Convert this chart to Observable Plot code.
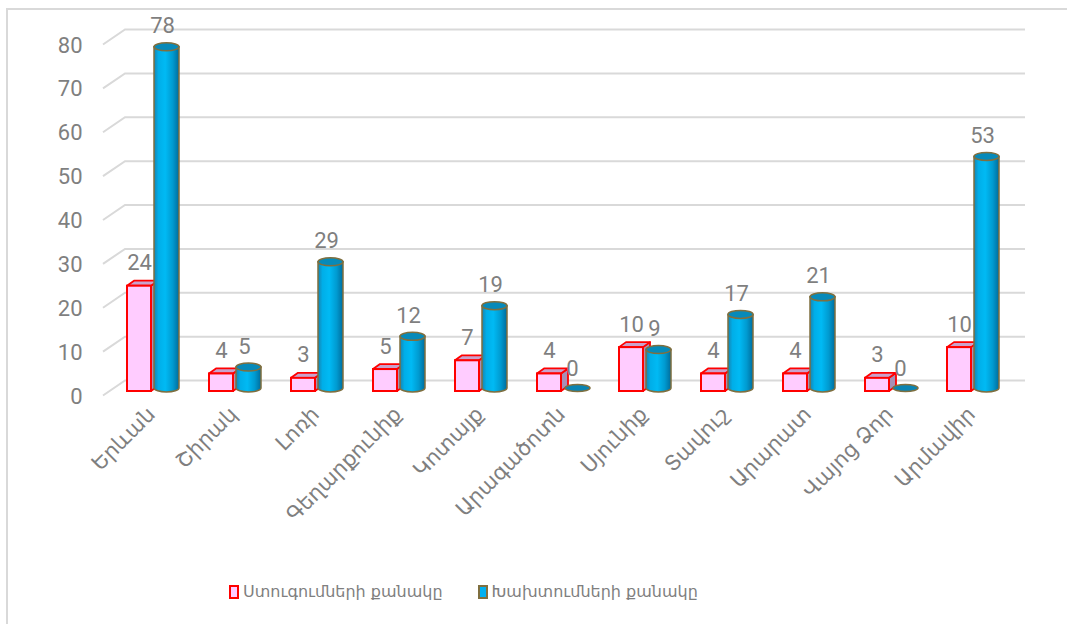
<!DOCTYPE html>
<html>
<head>
<meta charset="utf-8">
<script src="https://cdn.jsdelivr.net/npm/d3@7"></script>
<script src="https://cdn.jsdelivr.net/npm/@observablehq/plot@0.6"></script>
<style>
  html, body { margin: 0; padding: 0; background: #fff; }
  #wrap { position: relative; width: 1067px; height: 624px; overflow: hidden; }
  #frame { position: absolute; left: 6px; top: 8px; width: 1100px; height: 700px; border: 2px solid #d9d9d9; box-sizing: border-box; }
  #chart { position: absolute; left: 0; top: 0; }
  #legend { position: absolute; left: 229px; top: 582px; display: flex; align-items: center; font-family: "DejaVu Sans", sans-serif; font-size: 16px; color: #7f7f7f; white-space: nowrap; }
  .sw { width: 10px; height: 14px; box-sizing: border-box; margin-right: 4px; }
  .item { display: flex; align-items: center; margin-right: 35px; }
</style>
</head>
<body>
<div id="wrap">
  <div id="frame"></div>
  <div id="chart"></div>
  <div id="legend"></div>
</div>
<script>
const regions = ["Երևան","Շիրակ","Լոռի","Գեղարքունիք","Կոտայք","Արագածոտն","Սյունիք","Տավուշ","Արարատ","Վայոց Ձոր","Արմավիր"];
const inspections = [24, 4, 3, 5, 7, 4, 10, 4, 4, 3, 10];
const violations = [78, 5, 29, 12, 19, 0, 9, 17, 21, 0, 53];
const yTicks = [0, 10, 20, 30, 40, 50, 60, 70, 80];
const seriesNames = ["Ստուգումների քանակը", "Խախտումների քանակը"];
const seriesFill = ["#ffccff", "#00b0f0"];
const seriesStroke = ["#ff0000", "#7f6f3f"];

const insData = regions.map((r, i) => ({region: r, value: inspections[i]}));
const vioData = regions.map((r, i) => ({region: r, value: violations[i]}));

// 3D gridlines on the back wall, with diagonal side edges
function gridMark(index, scales, values, dims) {
  const g = d3.create("svg:g").attr("fill", "none").attr("stroke", "#d9d9d9").attr("stroke-width", 2);
  const ml = dims.marginLeft, xr = dims.width - dims.marginRight;
  for (const t of yTicks) {
    const y = scales.y(t);
    g.append("path").attr("d", `M${ml - 9},${y + 4.5}L${ml + 13},${y - 10.5}L${xr + 11},${y - 10.5}`);
  }
  return g.node();
}

// 3D boxes and cylinders, positioned through the x/y scales
function bars3d(index, scales, values, dims) {
  const x = scales.x, y = scales.y;
  const g = d3.create("svg:g");
  const defs = g.append("defs");
  const grad = defs.append("linearGradient").attr("id", "cylGrad")
    .attr("x1", "0").attr("x2", "1").attr("y1", "0").attr("y2", "0");
  [[0, "#1883b0"], [0.18, "#00aee8"], [0.45, "#00baf4"], [0.75, "#009ad0"], [1, "#006c9c"]]
    .forEach(([o, c]) => grad.append("stop").attr("offset", o).attr("stop-color", c));
  const yb = y(0);
  const dx = 7, dy = 5;
  insData.forEach((d, i) => {
    const x0 = x(d.region);
    const px0 = x0 + 15, px1 = x0 + 39;
    const yt = y(d.value);
    g.append("path")
      .attr("d", `M${px1},${yt}L${px1 + dx},${yt - dy}L${px1 + dx},${yb - dy}L${px1},${yb}Z`)
      .attr("fill", "#a88fb6").attr("stroke", seriesStroke[0]).attr("stroke-width", 1.8).attr("stroke-linejoin", "round");
    g.append("path")
      .attr("d", `M${px0},${yt}L${px0 + dx},${yt - dy}L${px1 + dx},${yt - dy}L${px1},${yt}Z`)
      .attr("fill", "#c9a2cc").attr("stroke", seriesStroke[0]).attr("stroke-width", 1.8).attr("stroke-linejoin", "round");
    g.append("rect")
      .attr("x", px0).attr("y", yt).attr("width", px1 - px0).attr("height", yb - yt)
      .attr("fill", seriesFill[0]).attr("stroke", seriesStroke[0]).attr("stroke-width", 2);
    const v = vioData[i].value;
    const cx0 = x0 + 42, cx1 = x0 + 67, cx = (cx0 + cx1) / 2, rx = (cx1 - cx0) / 2, ry = 4;
    const cb = yb - 3;
    const ct = y(v) - 2;
    if (v > 0) {
      g.append("path")
        .attr("d", `M${cx0},${ct}L${cx0},${cb}A${rx},${ry} 0 0 0 ${cx1},${cb}L${cx1},${ct}Z`)
        .attr("fill", "url(#cylGrad)").attr("stroke", seriesStroke[1]).attr("stroke-width", 1.5);
      g.append("ellipse").attr("cx", cx).attr("cy", ct).attr("rx", rx).attr("ry", ry)
        .attr("fill", "#078ab9").attr("stroke", seriesStroke[1]).attr("stroke-width", 1.5);
    } else {
      g.append("ellipse").attr("cx", cx + 1).attr("cy", cb).attr("rx", rx).attr("ry", 3.5)
        .attr("fill", "#0a84b3").attr("stroke", seriesStroke[1]).attr("stroke-width", 1.5);
    }
  });
  return g.node();
}

const chart = Plot.plot({
  width: 1067,
  height: 565,
  marginLeft: 112,
  marginRight: 53,
  marginTop: 40,
  marginBottom: 174,
  style: {background: "transparent", color: "#7f7f7f", fontFamily: "Roboto, 'DejaVu Sans', sans-serif", overflow: "visible"},
  x: {type: "band", domain: regions, padding: 0, axis: null},
  y: {domain: [0, 80], axis: null},
  marks: [
    gridMark,
    bars3d,
    Plot.axisY(yTicks, {anchor: "left", tickSize: 0, tickPadding: 30, fontSize: 22, dy: 5, label: null, fill: "#7f7f7f"}),
    Plot.text(regions, {x: d => d, frameAnchor: "bottom", rotate: -45, textAnchor: "end", dx: 3, dy: 24,
      fontSize: 21, fontFamily: "'DejaVu Sans', sans-serif", fill: "#7f7f7f"}),
    Plot.text(insData, {x: "region", y: "value", text: d => String(d.value), dx: -14, dy: -23, fontSize: 22, fill: "#7f7f7f"}),
    Plot.text(vioData, {x: "region", y: "value", text: d => String(d.value), dx: 9, dy: -23, fontSize: 22, fill: "#7f7f7f"})
  ]
});
document.getElementById("chart").appendChild(chart);

const legend = document.getElementById("legend");
seriesNames.forEach((name, i) => {
  const item = document.createElement("div");
  item.className = "item";
  const sw = document.createElement("div");
  sw.className = "sw";
  sw.style.background = seriesFill[i];
  sw.style.border = `2px solid ${seriesStroke[i]}`;
  const t = document.createElement("span");
  t.textContent = name;
  item.appendChild(sw);
  item.appendChild(t);
  legend.appendChild(item);
});
</script>
</body>
</html>
